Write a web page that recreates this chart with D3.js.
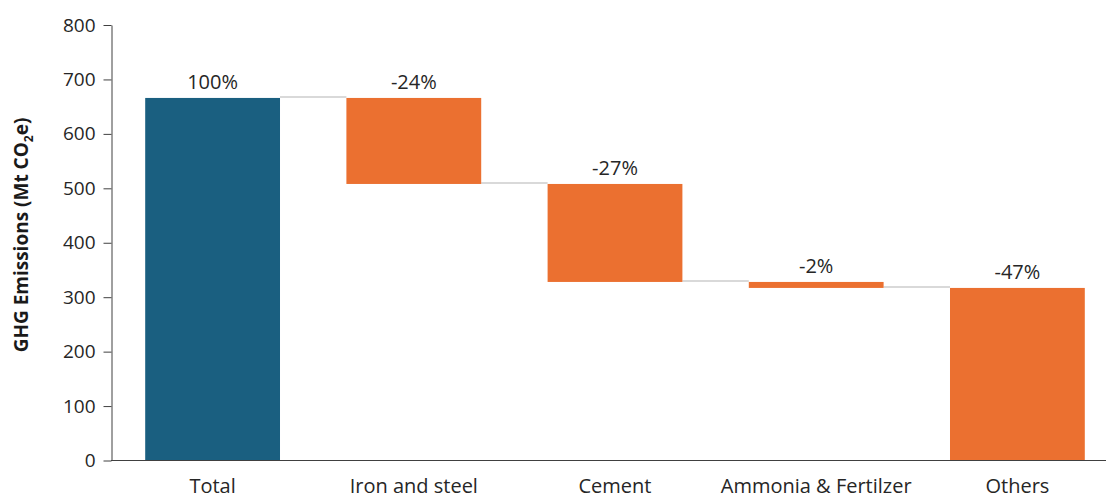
<!DOCTYPE html>
<html>
<head>
<meta charset="utf-8">
<script src="https://cdn.jsdelivr.net/npm/d3@7"></script>
<style>
  body { margin: 0; background: #fff; }
  svg text { font-family: "Open Sans", "Noto Sans", sans-serif; }
</style>
</head>
<body>
<svg id="drawing_region"></svg>
<script>
// waterfall data (Mt CO2e)
const categories = ['Total', 'Iron and steel', 'Cement', 'Ammonia & Fertilzer', 'Others'];
const values = [666, 158, 180, 11, 317];
const labels = ['100%', '-24%', '-27%', '-2%', '-47%'];
const yTicks = [0, 100, 200, 300, 400, 500, 600, 700, 800];

const config = {
  width: 1106,
  height: 499,
  margin: {top: 25, left: 111, bottom: 39}
};

// build waterfall segments: total bar, then decreasing steps
let running = values[0];
const segments = categories.map((c, i) => {
  if (i === 0) return {cat: c, y0: 0, y1: values[0], label: labels[i], total: true};
  const top = running;
  running -= values[i];
  return {cat: c, y0: running, y1: top, label: labels[i], total: false};
});
// last category "Others" sits on the baseline
segments[4].y0 = 0;
segments[4].y1 = values[4];

const svg = d3.select('#drawing_region')
  .attr('width', config.width)
  .attr('height', config.height);

const y0px = config.height - config.margin.bottom;

const xscale = d3.scaleBand()
  .domain(categories)
  .range([112, 1118])
  .paddingInner(0.33)
  .paddingOuter(0.165);

const yscale = d3.scaleLinear()
  .domain([0, 800])
  .range([y0px + 0.5, config.margin.top]);

// connector lines
for (let i = 0; i < segments.length - 1; i++) {
  const a = segments[i], b = segments[i + 1];
  const level = (i === 0) ? a.y1 : a.y0;
  svg.append('line')
    .attr('x1', xscale(a.cat) + xscale.bandwidth())
    .attr('x2', xscale(b.cat))
    .attr('y1', yscale(level) - 1)
    .attr('y2', yscale(level) - 1)
    .attr('stroke', '#d9d9d9')
    .attr('stroke-width', 2);
}

svg.selectAll('rect.bar')
  .data(segments)
  .enter()
  .append('rect')
  .attr('class', 'bar')
  .attr('x', d => xscale(d.cat))
  .attr('width', xscale.bandwidth())
  .attr('y', d => yscale(d.y1))
  .attr('height', d => yscale(d.y0) - yscale(d.y1))
  .attr('fill', d => d.total ? '#1a5f80' : '#eb7030');

svg.selectAll('text.val')
  .data(segments)
  .enter()
  .append('text')
  .attr('class', 'val')
  .attr('x', d => xscale(d.cat) + xscale.bandwidth() / 2)
  .attr('y', d => yscale(d.y1) - 9)
  .attr('text-anchor', 'middle')
  .attr('font-size', 20)
  .attr('fill', '#262626')
  .text(d => d.label);

// y axis
const yaxis = d3.axisLeft(yscale)
  .tickValues(yTicks)
  .tickSize(8)
  .tickPadding(8)
  .tickSizeOuter(0);

const yg = svg.append('g')
  .attr('transform', `translate(${config.margin.left + 0.5}, 0)`)
  .call(yaxis);
yg.select('.domain').attr('stroke', '#404040');
yg.selectAll('.tick line').attr('stroke', '#404040');
yg.selectAll('.tick text').attr('font-size', 19).attr('fill', '#262626')
  .attr('font-family', '"Open Sans", sans-serif');

// x axis
const xaxis = d3.axisBottom(xscale).tickSize(0).tickPadding(18).tickSizeOuter(0);
const xg = svg.append('g')
  .attr('transform', `translate(0, ${y0px + 0.5})`)
  .call(xaxis);
xg.select('.domain').attr('stroke', '#404040').attr('d', `M${config.margin.left},0H1106`);
xg.selectAll('.tick text').attr('font-size', 20).attr('fill', '#262626')
  .attr('font-family', '"Open Sans", sans-serif');

// y title
const title = svg.append('text')
  .attr('transform', `translate(28, 235) rotate(-90)`)
  .attr('text-anchor', 'middle')
  .attr('font-size', 19)
  .attr('font-weight', 'bold')
  .attr('fill', '#1a1a1a');
title.append('tspan').text('GHG Emissions (Mt CO');
title.append('tspan').attr('font-size', 12).attr('dy', 5).text('2');
title.append('tspan').attr('dy', -5).text('e)');
</script>
</body>
</html>
